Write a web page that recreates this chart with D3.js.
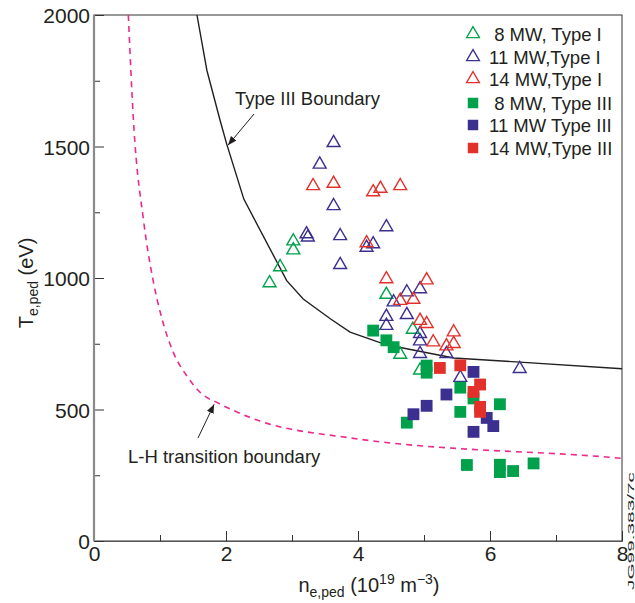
<!DOCTYPE html>
<html>
<head>
<meta charset="utf-8">
<script src="https://cdn.jsdelivr.net/npm/d3@7"></script>
<style>
  body { margin: 0; background: #fff; }
  svg { display: block; font-family: "Liberation Sans", Arial, Helvetica, sans-serif; }
  text { fill: #231f20; white-space: pre; }
</style>
</head>
<body>
<svg id="chart"></svg>
<script>
// values: [n_e,ped (1e19 m^-3), T_e,ped (eV)]
const type1_8mw = [[2.66, 981], [2.82, 1042], [3.02, 1140], [3.02, 1106], [4.43, 937],
  [4.83, 804], [4.64, 709], [4.94, 649]];
const type1_11mw = [[3.63, 1514], [3.42, 1432], [3.63, 1274], [3.22, 1167], [3.24, 1155],
  [3.73, 1160], [3.73, 1050], [4.43, 1194], [4.23, 1129], [4.13, 1116], [4.94, 958],
  [4.74, 946], [4.54, 908], [4.43, 853], [4.43, 819], [4.74, 860], [4.94, 788],
  [4.94, 760], [4.94, 712], [5.34, 712], [5.55, 621], [6.45, 655]];
const type1_14mw = [[3.32, 1350], [3.63, 1359], [4.23, 1327], [4.34, 1340], [4.64, 1350],
  [4.13, 1133], [4.43, 996], [5.04, 992], [4.64, 914], [4.84, 918], [4.94, 838],
  [5.04, 826], [5.14, 756], [5.45, 794], [5.45, 750], [5.34, 741]];
const type3_8mw = [[4.23, 800], [4.43, 763], [4.54, 737], [5.04, 667], [5.04, 640],
  [5.55, 583], [5.75, 542], [5.55, 491], [6.15, 520], [4.74, 450], [5.65, 289],
  [6.15, 290], [6.15, 262], [6.35, 266], [6.66, 295]];
const type3_11mw = [[5.75, 643], [5.34, 557], [5.04, 514], [4.84, 482], [5.95, 468],
  [6.05, 437], [5.75, 415]];
const type3_14mw = [[5.24, 658], [5.55, 668], [5.85, 595], [5.75, 567], [5.85, 510],
  [5.85, 491]];

const type3Boundary = [[1.56, 2000], [1.71, 1790], [1.91, 1600], [2.01, 1510], [2.27, 1300],
  [2.92, 990], [3.17, 920], [3.58, 845], [3.88, 794], [4.43, 746], [5.45, 696],
  [6.45, 680], [8, 655]];
const lhBoundary = [[0.52, 2000], [0.6, 1590], [0.75, 1220], [0.9, 985], [1.03, 845],
  [1.2, 718], [1.4, 630], [1.66, 554], [1.86, 527], [2.47, 460], [3.88, 392],
  [4.94, 362], [5.5, 352], [7.87, 317], [8, 314]];

const legendLabels = ["\u00a08 MW, Type I", "11 MW,Type I", "14 MW,Type I",
  "\u00a08 MW, Type III", "11 MW Type III", "14 MW,Type III"];
const xTicks = [0, 2, 4, 6, 8];
const xMinor = [1, 3, 5, 7];
const yTicks = [0, 500, 1000, 1500, 2000];
const yMinor = [250, 750, 1250, 1750];

const GREEN = "#00a14b", BLUE = "#3b2f8f", RED = "#e2312b", PINK = "#ec2a8c";

const width = 635, height = 603;
const margin = {top: 15, right: 13, bottom: 60, left: 94};
const svg = d3.select("#chart").attr("width", width).attr("height", height);

const x = d3.scaleLinear().domain([0, 8]).range([margin.left, width - margin.right]);
const y = d3.scaleLinear().domain([0, 2000]).range([height - margin.bottom - 2, margin.top]);

// frame
svg.append("rect")
    .attr("x", x(0)).attr("y", y(2000))
    .attr("width", x(8) - x(0)).attr("height", y(0) - y(2000))
    .attr("fill", "none").attr("stroke", "#333").attr("stroke-width", 1);

// axes, ticks pointing inward
const xAxis = svg.append("g").attr("transform", `translate(0,${y(0)})`)
    .call(d3.axisBottom(x).tickValues(xTicks).tickFormat(d3.format("d"))
        .tickSizeInner(-10).tickSizeOuter(0).tickPadding(3));
svg.append("g").attr("transform", `translate(0,${y(0)})`)
    .call(d3.axisBottom(x).tickValues(xMinor).tickFormat("")
        .tickSizeInner(-6).tickSizeOuter(0));
const yAxis = svg.append("g").attr("transform", `translate(${x(0)},0)`)
    .call(d3.axisLeft(y).tickValues(yTicks).tickFormat(d3.format("d"))
        .tickSizeInner(-10).tickSizeOuter(0).tickPadding(4));
svg.append("g").attr("transform", `translate(${x(0)},0)`)
    .call(d3.axisLeft(y).tickValues(yMinor).tickFormat("")
        .tickSizeInner(-6).tickSizeOuter(0));
svg.selectAll(".domain").attr("stroke", "#555");
svg.selectAll(".tick line").attr("stroke", "#333");
svg.selectAll(".tick text").attr("font-family", null).attr("font-size", 21).attr("fill", "#231f20");
yAxis.selectAll(".tick text").attr("dy", "0.36em");
xAxis.selectAll(".tick text").attr("dy", "0.8em");
// left axis drawn heavier and grey
svg.append("line").attr("x1", x(0)).attr("x2", x(0)).attr("y1", y(0)).attr("y2", y(2000))
    .attr("stroke", "#8a8a8a").attr("stroke-width", 2.2);

// boundaries
const line = d3.line().x(d => x(d[0])).y(d => y(d[1]));
svg.append("path").datum(type3Boundary)
    .attr("d", line).attr("fill", "none").attr("stroke", "#231f20").attr("stroke-width", 1.4);
svg.append("path").datum(lhBoundary)
    .attr("d", line.curve(d3.curveMonotoneX)).attr("fill", "none").attr("stroke", PINK)
    .attr("stroke-width", 1.6).attr("stroke-dasharray", "6,5");

// annotations
svg.append("defs").append("marker")
    .attr("id", "arrow").attr("viewBox", "0 0 10 10").attr("refX", 10).attr("refY", 5)
    .attr("markerWidth", 9).attr("markerHeight", 9).attr("orient", "auto-start-reverse")
    .attr("markerUnits", "userSpaceOnUse")
  .append("path").attr("d", "M0,1 L10,5 L0,9 z").attr("fill", "#231f20");
svg.append("line").attr("x1", 254).attr("y1", 114).attr("x2", x(2.03)).attr("y2", y(1505))
    .attr("stroke", "#231f20").attr("stroke-width", 1).attr("marker-end", "url(#arrow)");
svg.append("text").attr("x", 235).attr("y", 105).attr("font-size", 18.5).text("Type III Boundary");
svg.append("line").attr("x1", 198).attr("y1", 438).attr("x2", x(1.82)).attr("y2", y(520))
    .attr("stroke", "#231f20").attr("stroke-width", 1).attr("marker-end", "url(#arrow)");
svg.append("text").attr("x", 128).attr("y", 463).attr("font-size", 18.5).text("L-H transition boundary");

// data points
const tri = d3.symbol().type(d3.symbolTriangle).size(72);
const sq = d3.symbol().type(d3.symbolSquare).size(140);
const openSeries = [[type1_8mw, GREEN], [type1_11mw, BLUE], [type1_14mw, RED]];
const solidSeries = [[type3_8mw, GREEN], [type3_11mw, BLUE], [type3_14mw, RED]];
openSeries.forEach(([pts, c]) => {
  svg.append("g").selectAll("path").data(pts).enter().append("path")
      .attr("d", tri).attr("transform", d => `translate(${x(d[0])},${y(d[1])})`)
      .attr("fill", "none").attr("stroke", c).attr("stroke-width", 1.4);
});
solidSeries.forEach(([pts, c]) => {
  svg.append("g").selectAll("path").data(pts).enter().append("path")
      .attr("d", sq).attr("transform", d => `translate(${x(d[0])},${y(d[1])})`)
      .attr("fill", c);
});

// legend
const legendRows = [34, 57, 79, 103, 125, 148];
const legendSeries = openSeries.concat(solidSeries);
const legend = svg.append("g");
legendSeries.forEach(([pts, c], i) => {
  const g = legend.append("g").attr("transform", `translate(473,${legendRows[i]})`);
  if (i < 3) {
    g.append("path").attr("d", tri).attr("fill", "none").attr("stroke", c).attr("stroke-width", 1.3);
  } else {
    g.append("path").attr("d", d3.symbol().type(d3.symbolSquare).size(110)).attr("fill", c);
  }
  g.append("text").attr("x", 16).attr("y", 6.5).attr("font-size", 18.5).text(legendLabels[i]);
});

// axis titles
const yt = svg.append("text").attr("transform", "translate(33,283) rotate(-90)")
    .attr("text-anchor", "middle").attr("font-size", 20);
yt.append("tspan").text("T");
yt.append("tspan").attr("font-size", 14).attr("dy", 5).text("e,ped");
yt.append("tspan").attr("dy", -5).text(" (eV)");

const xt = svg.append("text").attr("x", 369).attr("y", 592)
    .attr("text-anchor", "middle").attr("font-size", 20);
xt.append("tspan").text("n");
xt.append("tspan").attr("font-size", 14).attr("dy", 5).text("e,ped");
xt.append("tspan").attr("dy", -5).text(" (10");
xt.append("tspan").attr("font-size", 14).attr("dy", -8).text("19");
xt.append("tspan").attr("dy", 8).text(" m");
xt.append("tspan").attr("font-size", 14).attr("dy", -8).text("\u22123");
xt.append("tspan").attr("dy", 8).text(")");

// figure id, rotated at the right edge (stretched lettering as in the original)
svg.append("text").attr("transform", "translate(634,590) rotate(-90)")
    .attr("font-size", 9).attr("textLength", 118).attr("lengthAdjust", "spacingAndGlyphs")
    .text("JG99.383/7c");
</script>
</body>
</html>
